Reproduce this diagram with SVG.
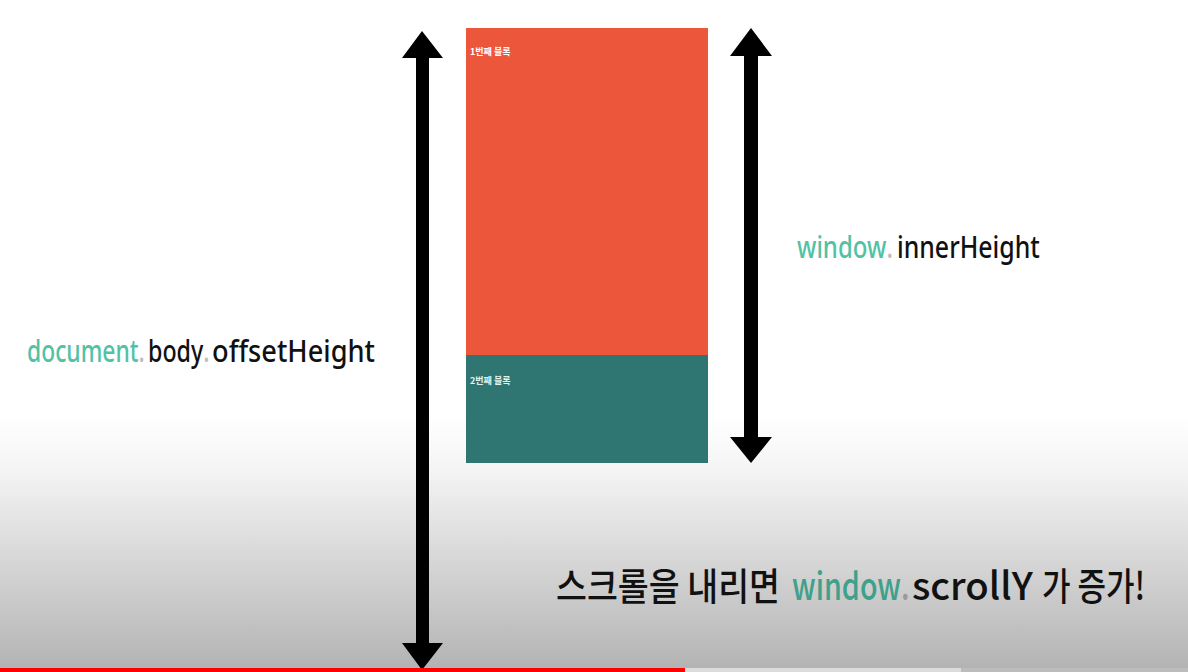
<svg xmlns="http://www.w3.org/2000/svg" width="1188" height="672" viewBox="0 0 1188 672">
<defs>
<linearGradient id="bg" x1="0" y1="0" x2="0" y2="672" gradientUnits="userSpaceOnUse">
<stop offset="0" stop-color="#ffffff"/>
<stop offset="0.62" stop-color="#ffffff"/>
<stop offset="0.7" stop-color="#f4f4f4"/>
<stop offset="1" stop-color="#b2b2b2"/>
</linearGradient>
<style>
.lbl{font-family:"Noto Sans","Noto Sans CJK KR",sans-serif;font-size:31px;font-weight:500;fill:#111;}
.big{font-family:"Noto Sans CJK KR","Noto Sans",sans-serif;font-size:38px;font-weight:500;fill:#111;}
.blk{font-family:"Noto Sans CJK KR","Noto Sans",sans-serif;font-size:9px;font-weight:bold;}
.key{fill:#52c2a5;}
.key2{fill:#3fa08b;}
.dot{fill:#bdbdbd;}
.dot2{fill:#9a9a9a;}
.arrow{fill:#000;}
</style>
</defs>
<rect x="0" y="0" width="1188" height="672" fill="url(#bg)"/>

<g id="block1">
<rect x="466" y="28" width="242" height="327" fill="#ec563b"/>
<text class="blk" x="470" y="55" fill="#ffffff">1번째 블록</text>
</g>
<g id="block2">
<rect x="466" y="355" width="242" height="108" fill="#2f7672"/>
<text class="blk" x="470" y="384" fill="#e3f2ef">2번째 블록</text>
</g>

<g id="connectors">
<polygon class="arrow" points="422,31 443,58 429,58 429,643 443,643 422,670 402,643 416,643 416,58 402,58"/>
<polygon class="arrow" points="751,28 772,56 758,56 758,437 772,437 751,463 730,437 744,437 744,56 730,56"/>
</g>

<g id="label-document">
<text class="lbl key" transform="translate(27,362) scale(0.78,1)" textLength="151" lengthAdjust="spacingAndGlyphs">document<tspan class="dot">.</tspan></text>
<text class="lbl" transform="translate(148,362) scale(0.78,1)" textLength="79" lengthAdjust="spacingAndGlyphs">body<tspan class="dot">.</tspan></text>
<text class="lbl" transform="translate(212,362) scale(0.78,1)" textLength="209" lengthAdjust="spacingAndGlyphs">offsetHeight</text>
</g>
<g id="label-window">
<text class="lbl key" transform="translate(797,258) scale(0.78,1)" textLength="123" lengthAdjust="spacingAndGlyphs">window<tspan class="dot">.</tspan></text>
<text class="lbl" transform="translate(897,258) scale(0.78,1)" textLength="183" lengthAdjust="spacingAndGlyphs">innerHeight</text>
</g>
<g id="label-scroll">
<text class="big" transform="translate(556,600) scale(0.8,1)" textLength="280" lengthAdjust="spacingAndGlyphs">스크롤을 내리면</text>
<text class="big key2" transform="translate(792,600) scale(0.8,1)" textLength="147" lengthAdjust="spacingAndGlyphs">window<tspan class="dot2">.</tspan></text>
<text class="big" transform="translate(912,600) scale(0.8,1)" textLength="151" lengthAdjust="spacingAndGlyphs">scrollY</text>
<text class="big" transform="translate(1042,600) scale(0.8,1)" textLength="129" lengthAdjust="spacingAndGlyphs">가 증가!</text>
</g>

<g id="progress">
<rect x="0" y="668" width="685" height="4" fill="#ff0000"/>
<rect x="685" y="668" width="276" height="4" fill="#dcdcdc"/>
<rect x="961" y="668" width="227" height="4" fill="#bcbcbc"/>
</g>
</svg>
